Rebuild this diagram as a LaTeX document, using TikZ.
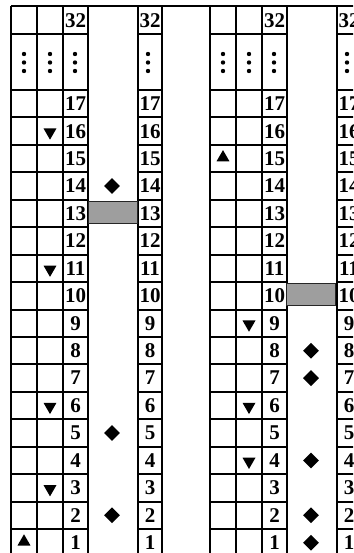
\documentclass[tikz,border=0pt]{standalone}
\usepackage{fontspec}
\setmainfont{Liberation Serif}
\usetikzlibrary{shapes.geometric}
\begin{document}
\begin{tikzpicture}[x=1pt,y=-1pt,
  grid/.style={line width=2pt},
  num/.style={font=\fontsize{21}{21}\selectfont\bfseries, inner sep=0pt},
  dn/.style={regular polygon, regular polygon sides=3, shape border rotate=180, fill=black, inner sep=0pt, minimum size=15pt},
  up/.style={regular polygon, regular polygon sides=3, fill=black, inner sep=0pt, minimum size=15pt},
  dia/.style={diamond, fill=black, inner sep=0pt, minimum size=16pt},
  bar/.style={fill=black!38, draw=black!85, line width=1pt, inner sep=0pt, minimum width=49pt, minimum height=22pt},
  dot/.style={circle, fill=black, inner sep=0pt, minimum size=4.4pt}]
\useasboundingbox (0,0) rectangle (353,553);
\clip (0,0) rectangle (353,553);
% top line across
\draw[grid] (11,6) -- (360,6);
\foreach \X/\b in {0/L,199/R}{
  \foreach \x in {11,37,63,88,138,162}
    \draw[grid] (\X+\x,6) -- (\X+\x,565);
  \foreach \y in {34,90}{
    \draw[grid] (\X+11,\y) -- (\X+88,\y);
    \draw[grid] (\X+138,\y) -- (\X+162,\y);
  }
  \foreach \k in {1,...,16}{
    \pgfmathsetmacro\yy{90+\k*27.44}
    \draw[grid] (\X+11,\yy) -- (\X+88,\yy);
    \draw[grid] (\X+138,\yy) -- (\X+162,\yy);
  }
  \node[num] (\b a32) at (\X+75.5,20.5) {32};
  \node[num] (\b b32) at (\X+150,20.5) {32};
  \foreach \n in {1,...,17}{
    \pgfmathsetmacro\yc{90+(17-\n)*27.44+13.72}
    \node[num] (\b a\n) at (\X+75.5,\yc) {\n};
    \node[num] (\b b\n) at (\X+150,\yc) {\n};
  }
  \foreach \c/\cx in {1/24,2/50,3/75,4/148}{
    \foreach \i/\dy in {1/54,2/62.5,3/71}
      \node[dot] (\b d\c\i) at (\X+\cx,\dy) {};
  }
}
% left block marks
\foreach \n in {16,11,6,3}{
  \pgfmathsetmacro\yc{90+(17-\n)*27.44+13.72}
  \node[dn] (Ltri\n) at (50,\yc+1) {};
}
\pgfmathsetmacro\yc{90+16*27.44+13.72}
\node[up] (Ltri1) at (24,\yc-1) {};
\foreach \n in {14,5,2}{
  \pgfmathsetmacro\yc{90+(17-\n)*27.44+13.72}
  \node[dia] (Ldia\n) at (112,\yc) {};
}
\node[bar] (Lbar) at (112.5,212) {};
% right block marks
\pgfmathsetmacro\yc{90+2*27.44+13.72}
\node[up] (Rtri15) at (223,\yc-1) {};
\foreach \n in {9,6,4}{
  \pgfmathsetmacro\yc{90+(17-\n)*27.44+13.72}
  \node[dn] (Rtri\n) at (249,\yc+1) {};
}
\foreach \n in {8,7,4,2,1}{
  \pgfmathsetmacro\yc{90+(17-\n)*27.44+13.72}
  \node[dia] (Rdia\n) at (311,\yc) {};
}
\node[bar] (Rbar) at (311,294.5) {};
\end{tikzpicture}
\end{document}
